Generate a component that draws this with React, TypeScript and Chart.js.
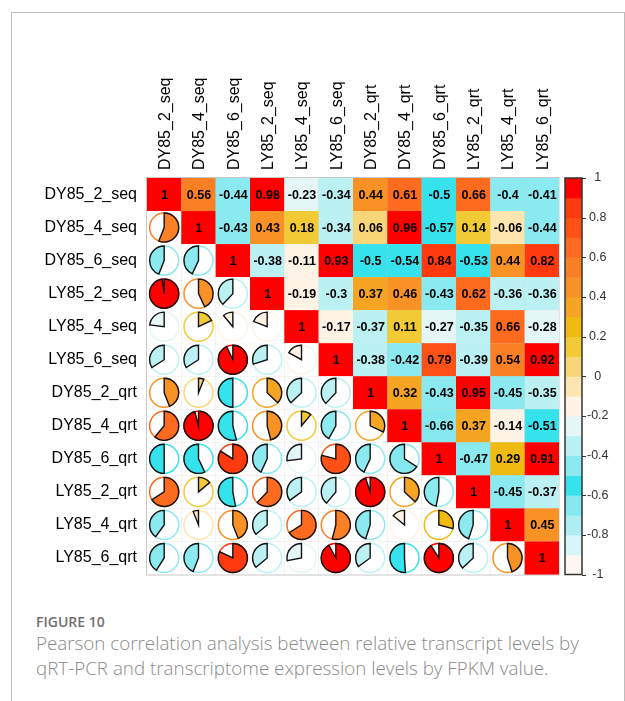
import { useEffect, useRef } from "react";
import { Chart, registerables } from "chart.js";

Chart.register(...registerables);

// Sample names (columns left→right, rows top→bottom)
const samples = [
  "DY85_2_seq",
  "DY85_4_seq",
  "DY85_6_seq",
  "LY85_2_seq",
  "LY85_4_seq",
  "LY85_6_seq",
  "DY85_2_qrt",
  "DY85_4_qrt",
  "DY85_6_qrt",
  "LY85_2_qrt",
  "LY85_4_qrt",
  "LY85_6_qrt",
];

// Upper triangle of the Pearson matrix; each row starts at its diagonal
const rowDY85_2_seq = [1, 0.56, -0.44, 0.98, -0.23, -0.34, 0.44, 0.61, -0.5, 0.66, -0.4, -0.41];
const rowDY85_4_seq = [1, -0.43, 0.43, 0.18, -0.34, 0.06, 0.96, -0.57, 0.14, -0.06, -0.44];
const rowDY85_6_seq = [1, -0.38, -0.11, 0.93, -0.5, -0.54, 0.84, -0.53, 0.44, 0.82];
const rowLY85_2_seq = [1, -0.19, -0.3, 0.37, 0.46, -0.43, 0.62, -0.36, -0.36];
const rowLY85_4_seq = [1, -0.17, -0.37, 0.11, -0.27, -0.35, 0.66, -0.28];
const rowLY85_6_seq = [1, -0.38, -0.42, 0.79, -0.39, 0.54, 0.92];
const rowDY85_2_qrt = [1, 0.32, -0.43, 0.95, -0.45, -0.35];
const rowDY85_4_qrt = [1, -0.66, 0.37, -0.14, -0.51];
const rowDY85_6_qrt = [1, -0.47, 0.29, 0.91];
const rowLY85_2_qrt = [1, -0.45, -0.37];
const rowLY85_4_qrt = [1, 0.45];
const rowLY85_6_qrt = [1];

// Colour-key tick labels
const keyTicks = [-1, -0.8, -0.6, -0.4, -0.2, 0, 0.2, 0.4, 0.6, 0.8, 1];

// 20 colour bins, from -1 (index 0) up to +1 (index 19)
const palette = [
  "#FFF5F3",
  "#D9F5F7",
  "#AEEEF2",
  "#86E8EF",
  "#36E3EC",
  "#8BE9F0",
  "#BCF1F3",
  "#E5F6F7",
  "#FFF3E6",
  "#FDE5AF",
  "#F8D677",
  "#F2CA36",
  "#F0BB10",
  "#F6A522",
  "#F99225",
  "#FB7F24",
  "#FF6B1E",
  "#FF5116",
  "#FF3A0E",
  "#FF0000",
];

const upperRows = [
  rowDY85_2_seq,
  rowDY85_4_seq,
  rowDY85_6_seq,
  rowLY85_2_seq,
  rowLY85_4_seq,
  rowLY85_6_seq,
  rowDY85_2_qrt,
  rowDY85_4_qrt,
  rowDY85_6_qrt,
  rowLY85_2_qrt,
  rowLY85_4_qrt,
  rowLY85_6_qrt,
];

const corrAt = (i: number, j: number) =>
  j >= i ? upperRows[i][j - i] : upperRows[j][i - j];

const colorFor = (v: number) => {
  const idx = Math.min(19, Math.max(0, Math.ceil((v + 1) * 10) - 1));
  return palette[idx];
};

type Cell = { x: string; y: string; v: number; upper: boolean };

const cells: Cell[] = [];
samples.forEach((rowName, i) => {
  samples.forEach((colName, j) => {
    cells.push({ x: colName, y: rowName, v: corrAt(i, j), upper: j >= i });
  });
});

const LABEL_FONT = '"Liberation Sans", Arial, Helvetica, sans-serif';
const LABEL_SIZE = 16;

// Draws the coloured cells, pies and numbers at the positions the scatter
// controller computed for each cell, plus the colour key next to the grid.
const corrplotPlugin = {
  id: "corrplotCells",
  beforeDatasetsDraw(chart: any) {
    const { ctx, chartArea, scales } = chart;
    const meta = chart.getDatasetMeta(0);
    const n = samples.length;
    const cw = chartArea.width / n;
    const chH = chartArea.height / n;
    const data = chart.data.datasets[0].data as Cell[];

    ctx.save();
    // cell backgrounds
    meta.data.forEach((el: any, k: number) => {
      const d = data[k];
      ctx.fillStyle = d.upper ? colorFor(d.v) : "#ffffff";
      ctx.fillRect(el.x - cw / 2, el.y - chH / 2, cw, chH);
    });

    // pies in the lower triangle
    const r = Math.min(cw, chH) * 0.44;
    meta.data.forEach((el: any, k: number) => {
      const d = data[k];
      if (d.upper) return;
      const col = colorFor(d.v);
      ctx.beginPath();
      ctx.arc(el.x, el.y, r, 0, Math.PI * 2);
      ctx.lineWidth = 1.5;
      ctx.strokeStyle = col;
      ctx.stroke();

      const start = -Math.PI / 2;
      const end = start + d.v * Math.PI * 2;
      ctx.beginPath();
      ctx.moveTo(el.x, el.y);
      ctx.arc(el.x, el.y, r, start, end, d.v < 0);
      ctx.closePath();
      ctx.fillStyle = col;
      ctx.fill();
      ctx.lineWidth = 1.4;
      ctx.strokeStyle = "#111111";
      ctx.lineJoin = "miter";
      ctx.stroke();
    });

    // coefficients in the upper triangle
    ctx.fillStyle = "#000000";
    ctx.font = `bold 12.5px ${LABEL_FONT}`;
    ctx.textAlign = "center";
    ctx.textBaseline = "middle";
    meta.data.forEach((el: any, k: number) => {
      const d = data[k];
      if (!d.upper) return;
      ctx.fillText(String(d.v), el.x + 0.5, el.y + 1);
    });

    // colour key
    const key = scales.c;
    const barLeft = chartArea.right + 6;
    const barW = 17;
    for (let b = 0; b < palette.length; b++) {
      const lo = -1 + b * 0.1;
      const hi = lo + 0.1;
      const yTop = key.getPixelForValue(hi);
      const yBot = key.getPixelForValue(lo);
      ctx.fillStyle = palette[b];
      ctx.fillRect(barLeft, yTop, barW, yBot - yTop + 0.5);
    }
    const yTop = key.getPixelForValue(1);
    const yBot = key.getPixelForValue(-1);
    ctx.lineWidth = 1.5;
    ctx.strokeStyle = "#333333";
    ctx.strokeRect(barLeft, yTop, barW, yBot - yTop);
    ctx.lineWidth = 1;
    ctx.beginPath();
    keyTicks.forEach((t) => {
      const y = Math.round(key.getPixelForValue(t)) + 0.5;
      ctx.moveTo(barLeft + barW, y);
      ctx.lineTo(barLeft + barW + 4, y);
    });
    ctx.stroke();
    ctx.restore();
  },
};

export default function App() {
  const canvasRef = useRef<HTMLCanvasElement>(null);

  useEffect(() => {
    const canvas = canvasRef.current;
    if (!canvas) return;
    const chart = new Chart(canvas, {
      type: "scatter",
      data: {
        datasets: [
          {
            data: cells as any,
            pointRadius: 0,
            pointHoverRadius: 0,
            showLine: false,
          },
        ],
      },
      options: {
        responsive: false,
        animation: false,
        devicePixelRatio: 1,
        events: [],
        layout: { padding: { left: 0, top: 0, right: 0, bottom: 21 } },
        plugins: {
          legend: { display: false },
          tooltip: { enabled: false },
        },
        scales: {
          x: {
            type: "category",
            labels: samples,
            position: "top",
            offset: true,
            z: 1,
            grid: {
              offset: true,
              color: "#c8c8c8",
              lineWidth: 1.5,
              drawTicks: false,
            },
            border: { display: true, color: "#c8c8c8", width: 1.5 },
            ticks: {
              autoSkip: false,
              minRotation: 90,
              maxRotation: 90,
              padding: 8,
              // rotated top labels are pulled back by one line height
              labelOffset: LABEL_SIZE * 1.2 + 1.5,
              color: "#000000",
              font: { family: LABEL_FONT, size: LABEL_SIZE },
            },
            afterFit: (s: any) => {
              s.height = 178;
            },
          },
          y: {
            type: "category",
            labels: samples,
            position: "left",
            offset: true,
            z: 1,
            grid: {
              offset: true,
              color: "#c8c8c8",
              lineWidth: 1.5,
              drawTicks: false,
            },
            border: { display: true, color: "#c8c8c8", width: 1.5 },
            ticks: {
              autoSkip: false,
              padding: 10,
              color: "#000000",
              font: { family: LABEL_FONT, size: LABEL_SIZE },
            },
            afterFit: (s: any) => {
              s.width = 147;
            },
          },
          c: {
            type: "linear",
            position: "right",
            min: -1,
            max: 1,
            grid: { display: false, drawTicks: false },
            border: { display: false },
            afterBuildTicks: (s: any) => {
              s.ticks = keyTicks.map((v) => ({ value: v }));
            },
            ticks: {
              padding: 28,
              crossAlign: "center",
              color: "#333333",
              font: { family: LABEL_FONT, size: 12.5 },
              callback: (v: any) => String(v),
            },
            afterFit: (s: any) => {
              s.width = 66;
            },
          },
        },
      } as any,
      plugins: [corrplotPlugin],
    });
    return () => chart.destroy();
  }, []);

  return (
    <div
      style={{
        position: "fixed",
        left: 0,
        top: 0,
        width: 625,
        height: 701,
        overflow: "hidden",
        background: "#ffffff",
      }}
    >
      <div
        style={{
          position: "absolute",
          left: 11,
          top: 12,
          width: 614,
          height: 760,
          boxSizing: "border-box",
          border: "1px solid #bdbdbd",
        }}
      />
      <canvas
        ref={canvasRef}
        width={625}
        height={610}
        style={{ position: "absolute", left: 0, top: 0, width: 625, height: 610 }}
      />
      <div
        style={{
          position: "absolute",
          left: 36,
          top: 612,
          fontFamily: '"Open Sans", sans-serif',
          fontSize: 14,
          fontWeight: 600,
          color: "#707070",
          whiteSpace: "nowrap",
        }}
      >
        FIGURE 10
      </div>
      <div
        style={{
          position: "absolute",
          left: 36,
          top: 631,
          width: 585,
          fontFamily: '"Open Sans", sans-serif',
          fontSize: 18.8,
          lineHeight: "25px",
          fontWeight: 300,
          color: "#8a8a8a",
          whiteSpace: "nowrap",
        }}
      >
        Pearson correlation analysis between relative transcript levels by
        <br />
        qRT-PCR and transcriptome expression levels by FPKM value.
      </div>
    </div>
  );
}
